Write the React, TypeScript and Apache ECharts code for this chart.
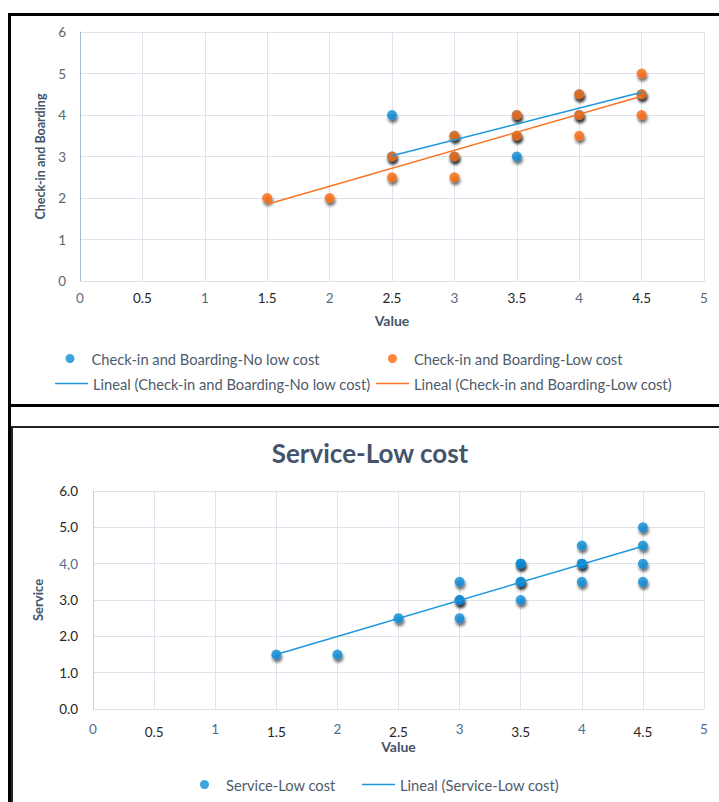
import React, { useEffect, useRef } from "react";
import * as echarts from "echarts";

// ---------- data ----------
const xTickLabels = ["0", "0.5", "1", "1.5", "2", "2.5", "3", "3.5", "4", "4.5", "5"];
const yTickLabelsTop = ["0", "1", "2", "3", "4", "5", "6"];
const yTickLabelsBottom = ["0.0", "1.0", "2.0", "3.0", "4,0", "5.0", "6.0"];

const checkinNoLowCost: number[][] = [
  [2.5, 4], [2.5, 3], [3, 3.5], [3, 3], [3.5, 4], [3.5, 3.5], [3.5, 3],
  [4, 4.5], [4, 4], [4.5, 4.5],
];
const checkinLowCost: number[][] = [
  [1.5, 2], [2, 2], [2.5, 3], [2.5, 2.5], [3, 3.5], [3, 3], [3, 2.5],
  [3.5, 4], [3.5, 3.5], [4, 4.5], [4, 4], [4, 3.5], [4.5, 5], [4.5, 4.5], [4.5, 4],
];
const trendNoLowCost: number[][] = [[2.5, 3.02], [4.5, 4.55]];
const trendLowCost: number[][] = [[1.5, 1.85], [4.5, 4.45]];

const serviceLowCost: number[][] = [
  [1.5, 1.5], [2, 1.5], [2.5, 2.5], [3, 3.5], [3, 3], [3, 3], [3, 2.5],
  [3.5, 4], [3.5, 4], [3.5, 3.5], [3.5, 3.5], [3.5, 3], [4, 4.5], [4, 4], [4, 4],
  [4, 3.5], [4.5, 5], [4.5, 4.5], [4.5, 4], [4.5, 3.5],
];
const trendService: number[][] = [[1.5, 1.5], [4.5, 4.48]];

const S_NO = "Check-in and Boarding-No low cost";
const S_LOW = "Check-in and Boarding-Low cost";
const T_NO = "Lineal (Check-in and Boarding-No low cost)";
const T_LOW = "Lineal (Check-in and Boarding-Low cost)";
const S_SRV = "Service-Low cost";
const T_SRV = "Lineal (Service-Low cost)";

const BLUE = "#0C8CD6";
const ORANGE = "#FA6A0C";
const FONT = "Lato, 'Open Sans', sans-serif";
const GRID = "#DCE3EB";

export default function App() {
  const ref = useRef<HTMLDivElement>(null);
  useEffect(() => {
    if (!ref.current) return;
    const chart = echarts.init(ref.current, null, { renderer: "svg" });

    const shadow = {
      shadowColor: "rgba(0,0,0,0.7)",
      shadowBlur: 3,
      shadowOffsetX: 1,
      shadowOffsetY: 3,
    };

    const xLabel = (rich: any, margin: number) => ({
      fontFamily: FONT,
      fontSize: 13.5,
      margin,
      formatter: (v: number) => {
        const lab = xTickLabels[Math.round(v / 0.5)];
        return Number.isInteger(v) ? `{i|${lab}}` : `{h|${lab}}`;
      },
      rich,
    });

    const legendBase = (name: string, left: number, top: number, isLine: boolean) => ({
      data: [{ name, icon: isLine ? "rect" : "circle" }],
      left,
      top,
      itemWidth: 33,
      itemHeight: isLine ? 1.6 : 9,
      itemGap: 5,
      padding: 0,
      selectedMode: false,
      itemStyle: { shadowBlur: 0, shadowOffsetX: 0, shadowOffsetY: 0, shadowColor: "transparent" },
      textStyle: { fontFamily: FONT, fontSize: 14.7, color: "#4E5B6A" },
    });

    chart.setOption({
      animation: false,
      backgroundColor: "#ffffff",
      title: {
        text: "Service-Low cost",
        left: 370,
        top: 440,
        textAlign: "center",
        padding: 0,
        textStyle: { fontFamily: FONT, fontSize: 26, fontWeight: "bold", color: "#44546A" },
      },
      legend: [
        legendBase(S_NO, 65.5, 351, false),
        legendBase(S_LOW, 388, 351, false),
        legendBase(T_NO, 55, 376, true),
        legendBase(T_LOW, 376, 376, true),
        legendBase(S_SRV, 200, 777, false),
        legendBase(T_SRV, 362, 777, true),
      ],
      grid: [
        { left: 80, right: 15, top: 32, height: 249 },
        { left: 93, right: 15, top: 491, height: 218 },
      ],
      xAxis: [
        {
          type: "value", gridIndex: 0, min: 0, max: 5, interval: 0.5,
          name: "Value", nameLocation: "middle", nameGap: 32,
          nameTextStyle: { fontFamily: FONT, fontSize: 14, fontWeight: "bold", color: "#44546A" },
          axisLine: { show: true, lineStyle: { color: GRID } },
          axisTick: { show: false },
          splitLine: { show: true, lineStyle: { color: GRID, width: 1 } },
          axisLabel: xLabel({
            i: { color: "#5A6A7C", fontFamily: FONT, fontSize: 13.5 },
            h: { color: "#262626", fontFamily: FONT, fontSize: 13.5 },
          }, 10),
        },
        {
          type: "value", gridIndex: 1, min: 0, max: 5, interval: 0.5,
          name: "Value", nameLocation: "middle", nameGap: 29,
          nameTextStyle: { fontFamily: FONT, fontSize: 14, fontWeight: "bold", color: "#44546A" },
          axisLine: { show: true, lineStyle: { color: GRID } },
          axisTick: { show: false },
          splitLine: { show: true, lineStyle: { color: GRID, width: 1 } },
          axisLabel: xLabel({
            i: { color: "#4F6D8C", fontFamily: FONT, fontSize: 13.5, padding: [0, 0, 0, 0] },
            h: { color: "#262626", fontFamily: FONT, fontSize: 13.5, padding: [3, 0, 0, 0] },
          }, 13),
        },
      ],
      yAxis: [
        {
          type: "value", gridIndex: 0, min: 0, max: 6, interval: 1,
          name: "Check-in and Boarding", nameLocation: "middle", nameGap: 22,
          nameTextStyle: { fontFamily: FONT, fontSize: 12.5, fontWeight: "bold", color: "#44546A" },
          axisLine: { show: true, lineStyle: { color: "#A9BDD2" } },
          axisTick: { show: false },
          splitLine: { show: true, lineStyle: { color: GRID, width: 1 } },
          axisLabel: {
            fontFamily: FONT, fontSize: 13.5, color: "#5B6570", margin: 14,
            formatter: (v: number) => yTickLabelsTop[Math.round(v)],
          },
        },
        {
          type: "value", gridIndex: 1, min: 0, max: 6, interval: 1,
          name: "Service", nameLocation: "middle", nameGap: 49,
          nameTextStyle: { fontFamily: FONT, fontSize: 13, fontWeight: "bold", color: "#44546A" },
          axisLine: { show: true, lineStyle: { color: "#C3D1DE" } },
          axisTick: { show: false },
          splitLine: { show: true, lineStyle: { color: GRID, width: 1 } },
          axisLabel: {
            fontFamily: FONT, fontSize: 13.5, margin: 15,
            formatter: (v: number) => {
              const lab = yTickLabelsBottom[Math.round(v)];
              return lab.includes(",") ? `{c|${lab}}` : `{d|${lab}}`;
            },
            rich: {
              c: { color: "#4F6D8C", fontFamily: FONT, fontSize: 13.5 },
              d: { color: "#262626", fontFamily: FONT, fontSize: 13.5 },
            },
          },
        },
      ],
      series: [
        {
          name: S_NO, type: "scatter", xAxisIndex: 0, yAxisIndex: 0,
          data: checkinNoLowCost, symbolSize: 10, color: BLUE,
          itemStyle: { color: BLUE, ...shadow }, z: 2,
        },
        {
          name: S_LOW, type: "scatter", xAxisIndex: 0, yAxisIndex: 0,
          data: checkinLowCost, symbolSize: 10, color: ORANGE,
          itemStyle: { color: ORANGE, ...shadow }, z: 3,
        },
        {
          name: T_NO, type: "line", xAxisIndex: 0, yAxisIndex: 0,
          data: trendNoLowCost, showSymbol: false, symbol: "none", color: "#1C97DC",
          lineStyle: { color: "#1C97DC", width: 1.5 }, z: 4,
        },
        {
          name: T_LOW, type: "line", xAxisIndex: 0, yAxisIndex: 0,
          data: trendLowCost, showSymbol: false, symbol: "none", color: "#FA7424",
          lineStyle: { color: "#FA7424", width: 1.5 }, z: 4,
        },
        {
          name: S_SRV, type: "scatter", xAxisIndex: 1, yAxisIndex: 1,
          data: serviceLowCost, symbolSize: 10, color: BLUE,
          itemStyle: { color: BLUE, ...shadow }, z: 2,
        },
        {
          name: T_SRV, type: "line", xAxisIndex: 1, yAxisIndex: 1,
          data: trendService, showSymbol: false, symbol: "none", color: "#1C97DC",
          lineStyle: { color: "#1C97DC", width: 1.5 }, z: 4,
        },
      ],
      graphic: [
        {
          type: "rect", silent: true, z: 100,
          shape: { x: 9.5, y: 14.5, width: 730, height: 391 },
          style: { fill: "none", stroke: "#000", lineWidth: 3 },
        },
        {
          type: "line", silent: true, z: 100,
          shape: { x1: 9.5, y1: 405, x2: 9.5, y2: 810 },
          style: { stroke: "#000", lineWidth: 3 },
        },
        {
          type: "rect", silent: true, z: 100,
          shape: { x: 12, y: 427, width: 730, height: 400 },
          style: { fill: "none", stroke: "#222", lineWidth: 2 },
        },
      ],
    });
    return () => chart.dispose();
  }, []);

  return (
    <div
      ref={ref}
      style={{ position: "fixed", left: 0, top: 0, width: 719, height: 802, background: "#fff" }}
    />
  );
}
